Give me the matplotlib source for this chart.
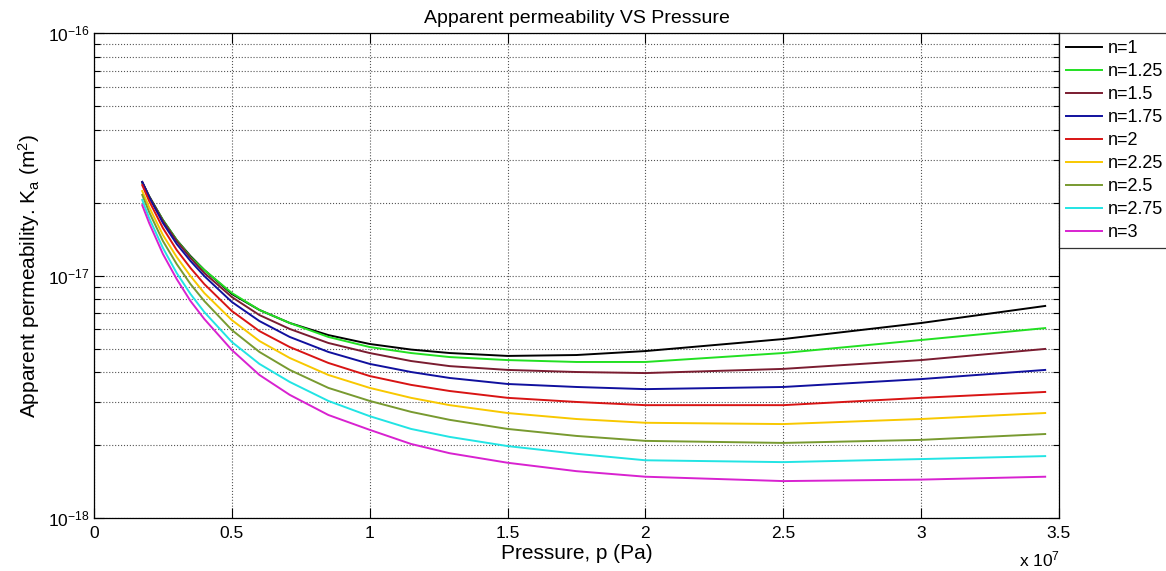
import numpy as np
import matplotlib
matplotlib.use('Agg')
import matplotlib.pyplot as plt
from matplotlib.ticker import FixedLocator, FuncFormatter, LogFormatterSciNotation, NullFormatter

plt.rcParams['font.family'] = ['Liberation Sans', 'DejaVu Sans']
plt.rcParams['mathtext.fontset'] = 'custom'
plt.rcParams['mathtext.rm'] = 'Liberation Sans'
plt.rcParams['mathtext.it'] = 'Liberation Sans'

# pressure (x 1e7 Pa)
pressure = [0.175, 0.2, 0.25, 0.3, 0.35, 0.4, 0.5, 0.6, 0.71, 0.85,
            1.0, 1.15, 1.29, 1.5, 1.75, 2.0, 2.5, 3.0, 3.45]

# apparent permeability (x 1e-18 m^2) for each n
k_n1 = [24.3, 21.27, 16.94, 14.01, 12.03, 10.54, 8.39, 7.21, 6.37, 5.68,
        5.22, 4.95, 4.79, 4.66, 4.70, 4.88, 5.47, 6.37, 7.49]
k_n125 = [24.1, 21.07, 16.94, 14.01, 11.92, 10.54, 8.47, 7.21, 6.37, 5.58,
          5.07, 4.79, 4.61, 4.48, 4.40, 4.40, 4.79, 5.42, 6.07]
k_n15 = [24.3, 21.07, 16.78, 13.88, 11.81, 10.24, 8.15, 6.87, 6.02, 5.27,
         4.79, 4.44, 4.23, 4.08, 4.00, 3.96, 4.12, 4.48, 4.98]
k_n175 = [24.3, 21.07, 16.47, 13.49, 11.48, 9.95, 7.78, 6.49, 5.58, 4.84,
          4.32, 4.00, 3.78, 3.57, 3.47, 3.40, 3.47, 3.74, 4.08]
k_n2 = [23.6, 20.29, 15.70, 12.74, 10.74, 9.22, 7.14, 5.90, 5.07, 4.36,
        3.85, 3.54, 3.34, 3.13, 3.01, 2.92, 2.92, 3.13, 3.31]
k_n225 = [22.3, 19.16, 14.69, 11.92, 9.95, 8.47, 6.55, 5.37, 4.57, 3.89,
          3.44, 3.13, 2.92, 2.71, 2.56, 2.47, 2.44, 2.56, 2.71]
k_n25 = [21.5, 18.27, 13.88, 11.15, 9.22, 7.85, 5.96, 4.84, 4.08, 3.44,
         3.04, 2.74, 2.54, 2.33, 2.18, 2.08, 2.04, 2.10, 2.22]
k_n275 = [20.5, 17.27, 12.99, 10.24, 8.39, 7.07, 5.32, 4.32, 3.64, 3.04,
          2.63, 2.33, 2.16, 1.98, 1.84, 1.73, 1.70, 1.75, 1.80]
k_n3 = [19.5, 16.47, 12.27, 9.67, 7.85, 6.62, 4.93, 3.89, 3.22, 2.66,
        2.31, 2.02, 1.85, 1.69, 1.56, 1.48, 1.42, 1.44, 1.48]

labels = ['n=1', 'n=1.25', 'n=1.5', 'n=1.75', 'n=2', 'n=2.25', 'n=2.5', 'n=2.75', 'n=3']
series = [k_n1, k_n125, k_n15, k_n175, k_n2, k_n225, k_n25, k_n275, k_n3]
colors = ['#000000', '#22e022', '#7a1c30', '#10109e', '#d81414',
          '#f8c800', '#789a30', '#22e4e4', '#d822d0']

fig = plt.figure(figsize=(11.66, 5.71), dpi=100)
ax = fig.add_axes([0.0806, 0.0928, 0.8276, 0.8494])

p = np.array(pressure) * 1e7
for k, lab, c in zip(series, labels, colors):
    ax.plot(p, np.array(k) * 1e-18, color=c, lw=1.4, label=lab)

ax.set_yscale('log')
ax.set_xlim(0, 3.5e7)
ax.set_ylim(1e-18, 1e-16)

ax.xaxis.set_major_locator(FixedLocator(np.arange(0, 3.51e7, 0.5e7)))
ax.xaxis.set_major_formatter(FuncFormatter(lambda v, _: '%g' % (v / 1e7)))
ax.yaxis.set_major_locator(FixedLocator([1e-18, 1e-17, 1e-16]))
ax.yaxis.set_major_formatter(LogFormatterSciNotation())
minor_y = [m * 10.0 ** e for e in (-18, -17) for m in range(2, 10)]
ax.yaxis.set_minor_locator(FixedLocator(minor_y))
ax.yaxis.set_minor_formatter(NullFormatter())

ax.tick_params(which='both', direction='in', top=True, right=True, labelsize=12.5)
ax.tick_params(which='major', length=7, width=0.8)
ax.tick_params(which='minor', length=4, width=0.8)
ax.tick_params(axis='x', pad=6)

ax.grid(True, which='major', axis='x', ls=':', color='#555555', lw=0.8)
ax.grid(True, which='both', axis='y', ls=':', color='#555555', lw=0.8)

for s in ax.spines.values():
    s.set_linewidth(0.9)

ax.set_title('Apparent permeability VS Pressure', fontsize=14, pad=7)
ax.set_xlabel('Pressure, p (Pa)', fontsize=15, labelpad=2)
ax.set_ylabel('Apparent permeability. K$_a$ (m$^2$)', fontsize=15)
fig.text(0.874, 0.02, 'x 10$^7$', fontsize=12.5, va='center')

leg = ax.legend(loc='upper left', bbox_to_anchor=(1.0, 1.0), borderaxespad=0,
                fontsize=13, frameon=True, fancybox=False, edgecolor='black',
                handlelength=2.0, handletextpad=0.3, labelspacing=0.33,
                borderpad=0.4)
leg.get_frame().set_linewidth(0.9)

fig.savefig('out.png', dpi=100)
